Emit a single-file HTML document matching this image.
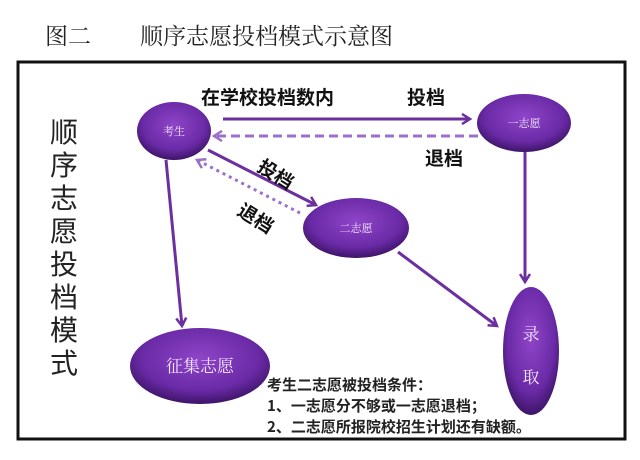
<!DOCTYPE html>
<html><head><meta charset="utf-8"><style>
body{margin:0;background:#fff;}
svg{display:block}
</style></head><body>
<svg width="640" height="460" viewBox="0 0 640 460" xmlns="http://www.w3.org/2000/svg" font-family="Liberation Sans, Noto Sans CJK SC, sans-serif">
<defs>
<radialGradient id="g" cx="50%" cy="40%" r="60%">
<stop offset="0" stop-color="#8f45c8"/><stop offset="0.7" stop-color="#6a2aa6"/><stop offset="1" stop-color="#3e1468"/>
</radialGradient>
<marker id="a" markerWidth="12" markerHeight="12" refX="9" refY="6" orient="auto" markerUnits="userSpaceOnUse">
<path d="M1,1 L9,6 L1,11" fill="none" stroke="#6b2fa0" stroke-width="2.5"/>
</marker>
<marker id="b" markerWidth="12" markerHeight="12" refX="9" refY="6" orient="auto" markerUnits="userSpaceOnUse">
<path d="M1,1 L9,6 L1,11" fill="none" stroke="#9b70c8" stroke-width="2.5"/>
</marker>
</defs>
<text x="45" y="44" font-size="23" fill="#222" font-family="Noto Serif CJK SC, serif">图二</text>
<text x="140" y="44" font-size="23" fill="#222" font-family="Noto Serif CJK SC, serif">顺序志愿投档模式示意图</text>
<rect x="18" y="62" width="607" height="377" fill="#fff" stroke="#111" stroke-width="3"/>
<g font-size="28" fill="#222" text-anchor="middle" font-family="Noto Sans CJK SC, sans-serif">
<text x="64" y="142">顺</text><text x="64" y="175">序</text><text x="64" y="208">志</text><text x="64" y="241">愿</text><text x="64" y="274">投</text><text x="64" y="307">档</text><text x="64" y="340">模</text><text x="64" y="373">式</text>
</g>
<!-- arrows -->
<line x1="223" y1="119" x2="470" y2="119" stroke="#6b2fa0" stroke-width="3" marker-end="url(#a)"/>
<line x1="478" y1="136" x2="214" y2="136" stroke="#9b70c8" stroke-width="3" stroke-dasharray="9,5" marker-end="url(#b)"/>
<line x1="208" y1="150" x2="316" y2="205" stroke="#6b2fa0" stroke-width="3" marker-end="url(#a)"/>
<line x1="300" y1="213" x2="197" y2="160" stroke="#9b70c8" stroke-width="3" stroke-dasharray="3,4" marker-end="url(#b)"/>
<line x1="166" y1="160" x2="182" y2="326" stroke="#6b2fa0" stroke-width="3" marker-end="url(#a)"/>
<line x1="525" y1="152" x2="525" y2="282" stroke="#6b2fa0" stroke-width="3" marker-end="url(#a)"/>
<line x1="398" y1="252" x2="497" y2="326" stroke="#6b2fa0" stroke-width="3" marker-end="url(#a)"/>
<!-- labels -->
<g font-size="19" font-weight="bold" fill="#111" font-family="Noto Sans CJK SC, sans-serif">
<text x="201" y="104">在学校投档数内</text>
<text x="407" y="104">投档</text>
<text x="425" y="165">退档</text>
<text x="0" y="0" transform="translate(256,170) rotate(32)">投档</text>
<text x="0" y="0" transform="translate(236,214) rotate(32)">退档</text>
</g>
<!-- ellipses -->
<ellipse cx="174" cy="131" rx="37" ry="29" fill="url(#g)"/>
<ellipse cx="524" cy="123" rx="47" ry="29" fill="url(#g)"/>
<ellipse cx="356" cy="228" rx="53" ry="30" fill="url(#g)"/>
<ellipse cx="200" cy="366" rx="70" ry="38" fill="url(#g)"/>
<ellipse cx="531" cy="351" rx="28" ry="64" fill="url(#g)"/>
<g fill="#f4e8ff" text-anchor="middle" font-family="Noto Serif CJK SC, serif">
<text x="174" y="135" font-size="11">考生</text>
<text x="524" y="127" font-size="11">一志愿</text>
<text x="356" y="232" font-size="11">二志愿</text>
<text x="200" y="372" font-size="17">征集志愿</text>
<text x="531" y="340" font-size="17">录</text>
<text x="531" y="383" font-size="17">取</text>
</g>
<g font-size="15" font-weight="bold" fill="#222" font-family="Noto Sans CJK SC, sans-serif">
<text x="267" y="390">考生二志愿被投档条件：</text>
<text x="267" y="411">1、一志愿分不够或一志愿退档；</text>
<text x="267" y="432">2、二志愿所报院校招生计划还有缺额。</text>
</g>
</svg>
</body></html>
